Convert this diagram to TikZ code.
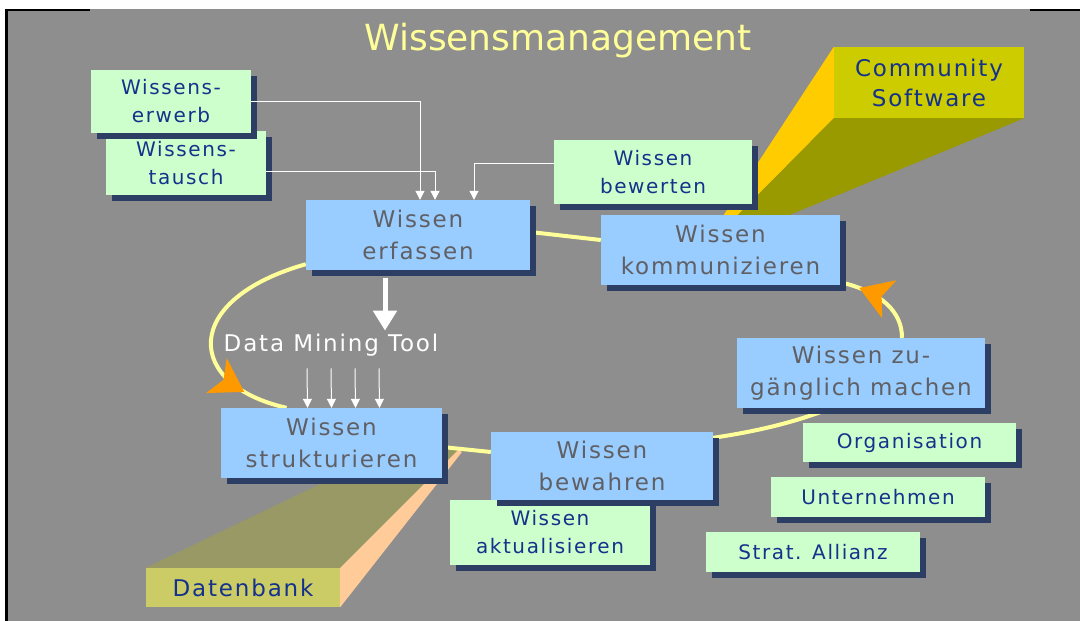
\documentclass[tikz,border=0pt]{standalone}
\usepackage{fontspec}
\setmainfont{DejaVu Sans}
\newfontfamily\spacedfont[LetterSpace=8]{DejaVu Sans}
\usetikzlibrary{shadows,arrows.meta,decorations.markings}

\definecolor{bggray}{RGB}{142,142,142}
\definecolor{boxblue}{RGB}{153,204,255}
\definecolor{boxgreen}{RGB}{204,255,204}
\definecolor{shadowc}{RGB}{45,62,100}
\definecolor{bluetext}{RGB}{96,96,100}
\definecolor{navytext}{RGB}{20,50,140}
\definecolor{titleyellow}{RGB}{255,255,153}
\definecolor{loopyellow}{RGB}{255,255,153}
\definecolor{arrorange}{RGB}{255,153,0}
\definecolor{commyellow}{RGB}{204,204,0}
\definecolor{commside}{RGB}{255,204,0}
\definecolor{commbottom}{RGB}{153,153,0}
\definecolor{dbkhaki}{RGB}{204,204,102}
\definecolor{dbtop}{RGB}{153,153,102}
\definecolor{dbside}{RGB}{255,204,153}

\pgfdeclarelayer{back}
\pgfdeclarelayer{under}
\pgfsetlayers{back,under,main}

\tikzset{
  shadowed/.style={general shadow={fill=shadowc, shadow xshift=6pt, shadow yshift=-6pt}},
  bluebox/.style={shadowed, fill=boxblue, text=bluetext, align=center, inner sep=0pt,
    font=\spacedfont\fontsize{23}{32}\selectfont},
  greenbox/.style={shadowed, fill=boxgreen, text=navytext, align=center, inner sep=0pt,
    font=\spacedfont\fontsize{20}{28}\selectfont},
  beambox/.style={text=navytext, align=center, inner sep=0pt,
    font=\spacedfont\fontsize{23}{30}\selectfont},
  cycleline/.style={draw=loopyellow, line width=4pt},
  feedarrow/.style={draw=white, line width=1pt, -{Triangle[width=9pt,length=9pt]}},
  bigarrow/.style={draw=white, line width=5pt, -{Triangle[width=23pt,length=20pt]}},
  turnmark/.style={postaction={decorate, decoration={markings,
    mark=at position #1 with {\arrow{Stealth[length=32pt,width=40pt,inset=8pt,color=arrorange]}}}}},
  turnmarkrev/.style={postaction={decorate, decoration={markings,
    mark=at position #1 with {\arrowreversed{Stealth[length=32pt,width=40pt,inset=8pt,color=arrorange]}}}}}
}

\begin{document}
\begin{tikzpicture}[x=1pt,y=-1pt]
\useasboundingbox (0,0) rectangle (1080,621);

% page and slide background
\begin{pgfonlayer}{back}
  \fill[white] (0,0) rectangle (1080,621);
  \fill[bggray] (8,9) rectangle (1080,621);
  \fill[black] (5,9) rectangle (8,621);
  \fill[black] (5,9) rectangle (90,11);
  \fill[black] (1030,9) rectangle (1080,11);
\end{pgfonlayer}

% title
\node[anchor=base, text=titleyellow, font=\fontsize{36}{40}\selectfont] (title) at (558,50) {Wissensmanagement};

% knowledge inputs
\node[greenbox, minimum width=160pt, minimum height=64pt] (tausch) at (186,163) {Wissens-\\tausch};
\node[greenbox, minimum width=160pt, minimum height=63pt] (erwerb) at (171,101.5) {Wissens-\\erwerb};
\node[greenbox, minimum width=198pt, minimum height=64pt] (bewerten) at (653,172) {Wissen\\bewerten};

% the cycle of core processes
\node[bluebox, minimum width=224pt, minimum height=70pt] (erfassen) at (418,235) {Wissen\\erfassen};
\node[bluebox, minimum width=239pt, minimum height=70pt] (kommun) at (720.5,250) {Wissen\\kommunizieren};
\node[bluebox, minimum width=248pt, minimum height=70pt] (zugang) at (861,373) {Wissen zu-\\gänglich machen};
\node[bluebox, minimum width=221pt, minimum height=70pt] (strukt) at (331.5,443) {Wissen\\strukturieren};
\node[greenbox, minimum width=200pt, minimum height=65pt] (aktual) at (550,532.5) {Wissen\\aktualisieren};
\node[bluebox, minimum width=222pt, minimum height=68pt] (bewahren) at (602,466) {Wissen\\bewahren};

% organisational scopes
\node[greenbox, minimum width=213pt, minimum height=39pt] (org) at (909.5,442.5) {Organisation};
\node[greenbox, minimum width=214pt, minimum height=40pt] (untern) at (878,497) {Unternehmen};
\node[greenbox, minimum width=214pt, minimum height=40pt] (strat) at (813,552) {Strat. Allianz};

% tools
\node[beambox, fill=commyellow, minimum width=190pt, minimum height=71pt] (community) at (929,82.5) {Community\\Software};
\node[beambox, fill=dbkhaki, minimum width=194pt, minimum height=39pt] (datenbank) at (243,587.5) {Datenbank};
\node[text=white, font=\spacedfont\fontsize{23}{28}\selectfont, inner sep=0pt] (dmt) at (331,345) {Data Mining Tool};

% perspective beams behind the tool boxes
\begin{pgfonlayer}{back}
  \fill[commside] (community.north west) -- (723,216) -- (737,216) -- (community.south west) -- cycle;
  \fill[commbottom] (community.south west) -- (737,216) -- (787,216) -- (community.south east) -- cycle;
  \fill[dbtop] (datenbank.north west) -- (datenbank.north east) -- (458,450) -- (420,436) -- cycle;
  \fill[dbside] (datenbank.north east) -- (datenbank.south east) -- (462,452) -- (458,450) -- cycle;
\end{pgfonlayer}

% the yellow cycle
\begin{pgfonlayer}{under}
  \draw[cycleline] ([yshift=3pt]erfassen.east) -- ([yshift=10pt]kommun.west);
  \draw[cycleline, turnmark=0.78] ([xshift=41pt]zugang.north)
     .. controls (902,312) and (882,292) .. ([yshift=3pt]kommun.south east);
  \draw[cycleline] ([xshift=-30pt]zugang.south)
     .. controls (790,424) and (752,432) .. ([yshift=-6pt]bewahren.north east);
  \draw[cycleline] ([yshift=14pt]bewahren.west) -- ([yshift=-4pt]strukt.east);
  \draw[cycleline, turnmarkrev=0.19] ([xshift=-45pt]strukt.north)
     .. controls (185,385) and (180,300) .. ([yshift=6pt]erfassen.south west);
\end{pgfonlayer}

% feeding arrows into knowledge capture
\draw[feedarrow] (erwerb.east) -| ([xshift=2pt]erfassen.north);
\draw[feedarrow] ([yshift=-8pt]tausch.east) -| ([xshift=17pt]erfassen.north);
\draw[feedarrow] ([yshift=9pt]bewerten.west) -| ([xshift=56pt]erfassen.north);

% data mining
\draw[bigarrow] ([xshift=-33pt,yshift=-8pt]erfassen.south) -- ([xshift=54pt,yshift=3pt]dmt.north);
\foreach \dx in {-24,0,24,48}
  \draw[feedarrow] ([shift={(\dx,12)}]dmt.south) -- ([xshift=\dx pt]strukt.north);
\end{tikzpicture}
\end{document}
